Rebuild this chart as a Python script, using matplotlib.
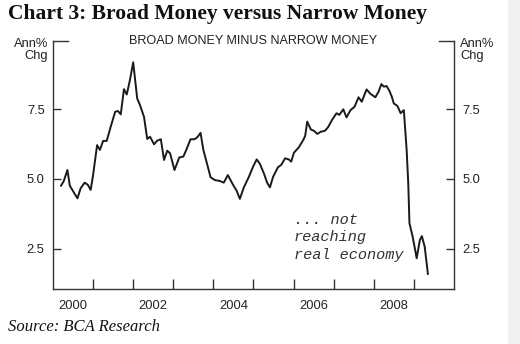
import matplotlib
matplotlib.use("Agg")
import matplotlib.pyplot as plt
from matplotlib.patches import Rectangle

INK = "#1a1a1a"

# ---- data ----
YEARS = [2000.20, 2000.27, 2000.36, 2000.42, 2000.52, 2000.61, 2000.69, 2000.79,
         2000.87, 2000.94, 2001.00, 2001.10, 2001.17, 2001.25, 2001.34, 2001.44,
         2001.55, 2001.62, 2001.69, 2001.77, 2001.84, 2001.92, 2002.00, 2002.10,
         2002.17, 2002.27, 2002.35, 2002.42, 2002.52, 2002.60, 2002.69, 2002.77,
         2002.85, 2002.92, 2003.03, 2003.15, 2003.25, 2003.33, 2003.43, 2003.53,
         2003.60, 2003.68, 2003.75, 2003.85, 2003.93, 2004.04, 2004.16, 2004.26,
         2004.36, 2004.48, 2004.58, 2004.66, 2004.76, 2004.88, 2004.99, 2005.08,
         2005.16, 2005.26, 2005.34, 2005.41, 2005.49, 2005.61, 2005.69, 2005.79,
         2005.88, 2005.94, 2006.01, 2006.13, 2006.24, 2006.29, 2006.34, 2006.43,
         2006.51, 2006.59, 2006.68, 2006.78, 2006.86, 2006.96, 2007.07, 2007.14,
         2007.24, 2007.32, 2007.42, 2007.52, 2007.62, 2007.70, 2007.82, 2007.92,
         2008.04, 2008.12, 2008.19, 2008.25, 2008.32, 2008.39, 2008.45, 2008.50,
         2008.59, 2008.67, 2008.75, 2008.82, 2008.86, 2008.89, 2008.97, 2009.07,
         2009.15, 2009.20, 2009.27, 2009.35]
SPREAD = [4.76, 4.93, 5.32, 4.76, 4.52, 4.31, 4.67, 4.87,
          4.79, 4.61, 5.14, 6.21, 6.04, 6.36, 6.36, 6.87,
          7.40, 7.43, 7.31, 8.21, 8.02, 8.54, 9.17, 7.88,
          7.64, 7.22, 6.43, 6.51, 6.24, 6.37, 6.42, 5.68,
          6.01, 5.92, 5.32, 5.77, 5.80, 6.06, 6.42, 6.42,
          6.49, 6.65, 6.04, 5.50, 5.06, 4.96, 4.93, 4.87,
          5.14, 4.82, 4.58, 4.29, 4.70, 5.06, 5.44, 5.70,
          5.54, 5.20, 4.87, 4.70, 5.08, 5.42, 5.50, 5.74,
          5.70, 5.62, 5.94, 6.13, 6.39, 6.54, 7.05, 6.77,
          6.72, 6.61, 6.69, 6.72, 6.85, 7.11, 7.35, 7.29,
          7.49, 7.20, 7.46, 7.58, 7.92, 7.76, 8.20, 8.04,
          7.92, 8.12, 8.39, 8.30, 8.32, 8.15, 7.94, 7.70,
          7.61, 7.35, 7.46, 6.04, 4.85, 3.42, 2.94, 2.17,
          2.82, 2.96, 2.58, 1.61]
YTICKS = [2.5, 5.0, 7.5]
YEAR_TICKS = list(range(2001, 2010))
YEAR_LABELS = ["2000", "2002", "2004", "2006", "2008"]

SANS = "Liberation Sans"
fig = plt.figure(figsize=(5.2, 3.44), dpi=100)
fig.patch.set_facecolor("white")
fig.patches.append(Rectangle((0.976, 0), 0.03, 1, transform=fig.transFigure,
                             facecolor="#f1f1f1", edgecolor="none", zorder=0))

ax = fig.add_axes([0.1019, 0.1599, 0.7711, 0.7209])
ax.plot(YEARS, SPREAD, color=INK, lw=1.4, solid_joinstyle="round")
ax.set_xlim(2000, 2010)
ax.set_ylim(1.07, 9.93)

for s in ("left", "right", "bottom"):
    ax.spines[s].set_color("#333333")
    ax.spines[s].set_linewidth(1.0)
ax.spines["top"].set_visible(False)

# y ticks on both sides, pointing in
ax.set_yticks(YTICKS)
ax.set_yticklabels([f"{v:.1f}" for v in YTICKS])
ax.tick_params(axis="y", which="major", direction="in", length=6, width=1,
               color="#333333", left=True, right=True, labelleft=True,
               labelright=True, labelsize=9.3, pad=6, labelcolor="#222222")
# top "Ann% Chg" ticks
for x0, x1 in ((0, 0.038), (0.962, 1)):
    ax.plot([x0, x1], [1, 1], transform=ax.transAxes, color="#333333", lw=1,
            clip_on=False)
for xa, ha in ((-0.012, "right"), (1.016, "left")):
    ax.text(xa, 1.012, "Ann%\nChg", transform=ax.transAxes, ha=ha, va="top",
            fontsize=9.3, color="#222222", linespacing=1.0,
            multialignment=ha, family=SANS)

# x: year boundary ticks, labels centred mid-year
ax.set_xticks(YEAR_TICKS)
ax.set_xticklabels([])
ax.tick_params(axis="x", which="major", direction="in", length=7, width=1,
               color="#333333")
ax.set_xticks([int(y) + 0.5 for y in YEAR_LABELS], minor=True)
ax.set_xticklabels(YEAR_LABELS, minor=True)
ax.tick_params(axis="x", which="minor", length=0, labelsize=9.3, pad=8,
               labelcolor="#222222")
for lab in ax.get_xticklabels(minor=True) + ax.yaxis.get_ticklabels(which="both"):
    lab.set_family(SANS)

ax.text(0.5, 1.0, "BROAD MONEY MINUS NARROW MONEY", transform=ax.transAxes,
        ha="center", va="center", fontsize=9.1, family=SANS, color="#222222")

ax.text(2006.0, 3.78, "... not\nreaching\nreal economy", ha="left", va="top",
        fontsize=11, family="Liberation Mono", style="italic",
        color="#333333", linespacing=1.3)

fig.text(0.015, 0.958, "Chart 3: Broad Money versus Narrow Money", ha="left",
         va="center", fontsize=15.5, fontweight="bold", family="Liberation Serif",
         color="#111111")
fig.text(0.015, 0.05, "Source: BCA Research", ha="left", va="center",
         fontsize=12, style="italic", family="Liberation Serif",
         color="#111111")

fig.savefig("out.png", dpi=100)
